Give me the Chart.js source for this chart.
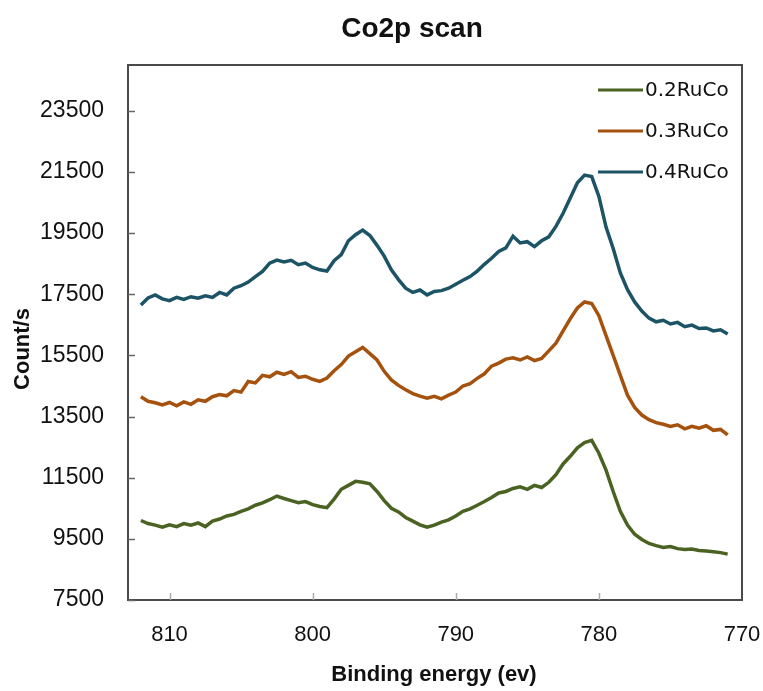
<!DOCTYPE html>
<html>
<head>
<meta charset="utf-8">
<title>Co2p scan</title>
<script src="https://cdn.jsdelivr.net/npm/chart.js@4.4.1/dist/chart.umd.min.js"></script>
<style>
  html, body { margin: 0; padding: 0; background: #fff; }
  #wrap { width: 763px; height: 691px; }
</style>
</head>
<body>
<div id="wrap"><canvas id="xps" width="763" height="691"></canvas></div>
<script>
// Co2p XPS scan, three samples, counts per second vs binding energy
const energy = [
  812.0, 811.5, 811.0, 810.5, 810.0, 809.5, 809.0, 808.5, 808.0, 807.5,
  807.0, 806.5, 806.0, 805.5, 805.0, 804.5, 804.0, 803.5, 803.0, 802.5,
  802.0, 801.5, 801.0, 800.5, 800.0, 799.5, 799.0, 798.5, 798.0, 797.5,
  797.0, 796.5, 796.0, 795.5, 795.0, 794.5, 794.0, 793.5, 793.0, 792.5,
  792.0, 791.5, 791.0, 790.5, 790.0, 789.5, 789.0, 788.5, 788.0, 787.5,
  787.0, 786.5, 786.0, 785.5, 785.0, 784.5, 784.0, 783.5, 783.0, 782.5,
  782.0, 781.5, 781.0, 780.5, 780.0, 779.5, 779.0, 778.5, 778.0, 777.5,
  777.0, 776.5, 776.0, 775.5, 775.0, 774.5, 774.0, 773.5, 773.0, 772.5,
  772.0, 771.5, 771.0
];

const ruCo02 = [
  10100, 10000, 9950, 9880, 9960, 9900, 10000, 9950, 10020, 9900,
  10080, 10150, 10250, 10300, 10400, 10480, 10600, 10680, 10780, 10900,
  10820, 10750, 10680, 10720, 10620, 10560, 10520, 10800, 11120, 11250,
  11380, 11350, 11300, 11050, 10750, 10500, 10380, 10200, 10080, 9960,
  9880, 9950, 10050, 10120, 10250, 10400, 10480, 10600, 10720, 10850,
  11000, 11050, 11150, 11200, 11120, 11250, 11180, 11350, 11600, 11950,
  12200, 12480, 12650, 12720, 12300, 11750, 11050, 10400, 9950, 9650,
  9480, 9350, 9280, 9220, 9250, 9180, 9150, 9170, 9120, 9100,
  9080, 9050, 9000
];

const ruCo03 = [
  14150, 14000, 13950, 13880, 13960, 13850, 13980, 13900, 14050, 14000,
  14150, 14220, 14180, 14350, 14300, 14650, 14600, 14850, 14800, 14950,
  14880, 14970, 14780, 14820, 14720, 14650, 14760, 15000, 15200, 15480,
  15620, 15760, 15560, 15350, 14980, 14700, 14520, 14380, 14250, 14170,
  14100, 14160, 14080, 14200, 14300, 14500, 14580, 14750, 14900, 15150,
  15250, 15380, 15420, 15350, 15450, 15330, 15400, 15650, 15900, 16300,
  16700, 17050, 17250, 17200, 16800, 16150, 15500, 14850, 14200, 13800,
  13550, 13400, 13300, 13250, 13180, 13230, 13100, 13180, 13120, 13200,
  13050, 13080, 12900
];

const ruCo04 = [
  17150, 17380, 17480, 17350, 17290, 17400, 17330, 17420, 17370, 17450,
  17400, 17560, 17480, 17700, 17780, 17900, 18080, 18250, 18520, 18620,
  18560, 18610, 18470, 18520, 18380, 18300, 18260, 18600, 18800, 19250,
  19450, 19600, 19420, 19100, 18750, 18300, 17980, 17700, 17560, 17640,
  17480, 17590, 17620, 17700, 17830, 17960, 18080, 18260, 18480, 18680,
  18900, 19020, 19400, 19180, 19220, 19060, 19250, 19380, 19720, 20150,
  20650, 21150, 21400, 21350, 20700, 19700, 19000, 18200, 17650, 17250,
  16950, 16720, 16600, 16650, 16530, 16580, 16440, 16490, 16380, 16400,
  16300, 16340, 16200
];

const seriesNames = ['0.2RuCo', '0.3RuCo', '0.4RuCo'];
const seriesColors = ['#4b6322', '#a5520f', '#1c5466'];
const xTicks = [810, 800, 790, 780, 770];
const yTicks = [7500, 9500, 11500, 13500, 15500, 17500, 19500, 21500, 23500];

const FONT = "'Liberation Sans', Arial, sans-serif";

const pts = ys => ys.map((y, i) => ({ x: energy[i], y: y }));

// box round the plot, short inward tick marks, title, axis titles, legend
const framePlugin = {
  id: 'frame',
  beforeDatasetsDraw(chart) {
    const { ctx, chartArea: a, scales: { x, y } } = chart;
    ctx.save();
    ctx.strokeStyle = '#4a4a4a';
    ctx.lineWidth = 2;
    ctx.strokeRect(a.left, a.top, a.right - a.left, a.bottom - a.top);
    ctx.lineWidth = 1.5;
    ctx.strokeStyle = '#666';
    yTicks.forEach(v => {
      const py = Math.round(y.getPixelForValue(v)) + 0.5;
      ctx.beginPath(); ctx.moveTo(a.left, py); ctx.lineTo(a.left + 7, py); ctx.stroke();
    });
    ctx.strokeStyle = '#aaa';
    xTicks.slice(0, 4).forEach(v => {
      const px = Math.round(x.getPixelForValue(v)) + 0.5;
      ctx.beginPath(); ctx.moveTo(px, a.bottom); ctx.lineTo(px, a.bottom - 7); ctx.stroke();
    });
    ctx.restore();
  },
  afterDraw(chart) {
    const { ctx, chartArea: a } = chart;
    ctx.save();
    ctx.fillStyle = '#111';
    ctx.textAlign = 'center';
    ctx.textBaseline = 'middle';
    // title
    ctx.font = "bold 28px " + FONT;
    ctx.fillText('Co2p scan', 412, 29);
    // x axis title
    ctx.font = "bold 22px " + FONT;
    ctx.fillText('Binding energy (ev)', 434, 675);
    // y axis title
    ctx.save();
    ctx.translate(23, 349);
    ctx.rotate(-Math.PI / 2);
    ctx.fillText('Count/s', 0, 0);
    ctx.restore();
    // legend, top right inside the plot
    ctx.font = "20px 'DejaVu Sans', sans-serif";
    ctx.textAlign = 'left';
    chart.data.datasets.forEach((ds, i) => {
      const yy = a.top + 25 + i * 41;
      ctx.strokeStyle = ds.borderColor;
      ctx.lineWidth = 3;
      ctx.beginPath();
      ctx.moveTo(a.right - 144, yy);
      ctx.lineTo(a.right - 99, yy);
      ctx.stroke();
      ctx.fillStyle = '#111';
      ctx.fillText(ds.label, a.right - 97, yy + 1);
    });
    ctx.restore();
  }
};

new Chart(document.getElementById('xps'), {
  type: 'line',
  data: {
    datasets: [ruCo02, ruCo03, ruCo04].map((s, i) => ({
      label: seriesNames[i],
      data: pts(s),
      borderColor: seriesColors[i],
      backgroundColor: seriesColors[i],
      borderWidth: 3.5,
      pointRadius: 0,
      tension: 0,
      fill: false
    }))
  },
  options: {
    responsive: false,
    animation: false,
    layout: { padding: { left: 0, right: 21, top: 65, bottom: 0 } },
    plugins: {
      legend: { display: false },
      title: { display: false },
      tooltip: { enabled: false }
    },
    scales: {
      x: {
        type: 'linear',
        reverse: true,
        min: 770,
        max: 812.9,
        afterBuildTicks: s => { s.ticks = xTicks.map(v => ({ value: v })); },
        afterFit: s => { s.height = 91; s.paddingLeft = 0; s.paddingRight = 0; },
        grid: { display: false, drawTicks: false },
        border: { display: false },
        ticks: {
          color: '#111',
          padding: 22,
          maxRotation: 0,
          font: { family: FONT, size: 22 },
          callback: v => String(v)
        },
        title: { display: false }
      },
      y: {
        min: 7500,
        max: 25000,
        afterBuildTicks: s => { s.ticks = yTicks.map(v => ({ value: v })); },
        afterFit: s => { s.width = 128; s.paddingTop = 0; s.paddingBottom = 0; },
        grid: { display: false, drawTicks: false },
        border: { display: false },
        ticks: {
          color: '#111',
          padding: 24,
          font: { family: FONT, size: 23 },
          callback: v => String(v)
        },
        title: { display: false }
      }
    }
  },
  plugins: [framePlugin]
});
</script>
</body>
</html>
